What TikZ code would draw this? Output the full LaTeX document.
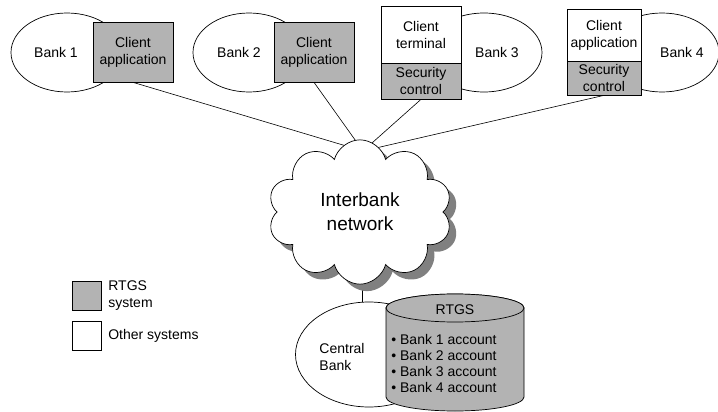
\documentclass[tikz,border=0pt]{standalone}
\usepackage{fontspec}
\setmainfont{Liberation Sans}
\usetikzlibrary{shapes.geometric,shapes.symbols,shadows,backgrounds}
\definecolor{rtgs}{RGB}{179,179,179}
\begin{document}
\begin{tikzpicture}[x=1pt,y=-1pt, line width=0.7pt,
  bank/.style={draw, ellipse, fill=white, inner sep=0pt},
  txt/.style={font=\fontsize{14}{17}\selectfont, align=center, inner sep=0pt},
  sysbox/.style={draw, fill=rtgs, inner sep=0pt, font=\fontsize{14}{17}\selectfont, align=center},
  othbox/.style={draw, fill=white, inner sep=0pt, font=\fontsize{14}{17}\selectfont, align=center},
  link/.style={draw, line width=0.6pt}
]
\useasboundingbox (0,0) rectangle (718,412);

% Banks
\node[bank, minimum width=112pt, minimum height=79pt] (bank1) at (67,52.5) {};
\node[txt] (bank1t) at (56,52) {Bank 1};
\node[sysbox, minimum width=80pt, minimum height=60pt] (box1) at (133,52) {Client\\application};

\node[bank, minimum width=112pt, minimum height=79pt] (bank2) at (249,52.5) {};
\node[txt] (bank2t) at (239,52) {Bank 2};
\node[sysbox, minimum width=80pt, minimum height=60pt] (box2) at (314,52) {Client\\application};

\node[bank, minimum width=116pt, minimum height=79pt] (bank3) at (484,52.5) {};
\node[txt] (bank3t) at (497,52) {Bank 3};
\node[othbox, minimum width=80pt, minimum height=57pt] (box3t) at (421,34.5) {Client\\terminal};
\node[sysbox, minimum width=80pt, minimum height=36pt] (box3s) at (421,81) {Security\\control};

\node[bank, minimum width=114pt, minimum height=79pt] (bank4) at (662,52.5) {};
\node[txt] (bank4t) at (682,52) {Bank 4};
\node[othbox, minimum width=74pt, minimum height=52pt] (box4t) at (604,35) {Client\\application};
\node[sysbox, minimum width=74pt, minimum height=34pt] (box4s) at (604,78) {Security\\control};

% Cloud
\node[cloud, cloud puffs=10, draw, fill=white, minimum width=184pt, minimum height=126pt,
      drop shadow={shadow xshift=7pt, shadow yshift=-7pt, fill=black!50, opacity=1},
      font=\fontsize{19}{24}\selectfont, align=center] (net) at (360,212) {Interbank\\network};
\coordinate (hub) at (363,151);

% Central bank
\node[bank, minimum width=147pt, minimum height=105pt] (cb) at (369,354.5) {};
\node[txt, align=left] (cbt) at (342,357) {Central\\Bank};

% Cylinder (RTGS)
\draw[fill=rtgs] (386,308) -- (386,397) arc[start angle=180,end angle=360,x radius=69pt,y radius=14pt]
  -- (524,308) arc[start angle=0,end angle=180,x radius=69pt,y radius=14pt] -- cycle;
\draw[fill=rtgs] (455,308) ellipse [x radius=69pt, y radius=14pt];
\node[txt] (rtgst) at (455,310) {RTGS};
\node[txt, align=left, anchor=west, font=\fontsize{14}{16}\selectfont] (accts) at (391,363)
  {• Bank 1 account\\• Bank 2 account\\• Bank 3 account\\• Bank 4 account};

% Legend
\node[draw, fill=rtgs, minimum size=29pt, inner sep=0pt] (lg1) at (86.5,295.5) {};
\node[txt, align=left, anchor=west] (lg1t) at (108,295.5) {RTGS\\system};
\node[draw, fill=white, minimum size=29pt, inner sep=0pt] (lg2) at (86.5,335.5) {};
\node[txt, align=left, anchor=west] (lg2t) at (108,336) {Other systems};

% Connectors
\begin{scope}[on background layer]
  \draw[link] (box1.south) -- (hub);
  \draw[link] (box2.south) -- (hub);
  \draw[link] (box3s.south) -- (hub);
  \draw[link] (box4s.south) -- (hub);
  \draw[link] ([xshift=2pt]net.center) -- ([xshift=2pt]net.center |- cb.north);
\end{scope}
\end{tikzpicture}
\end{document}
